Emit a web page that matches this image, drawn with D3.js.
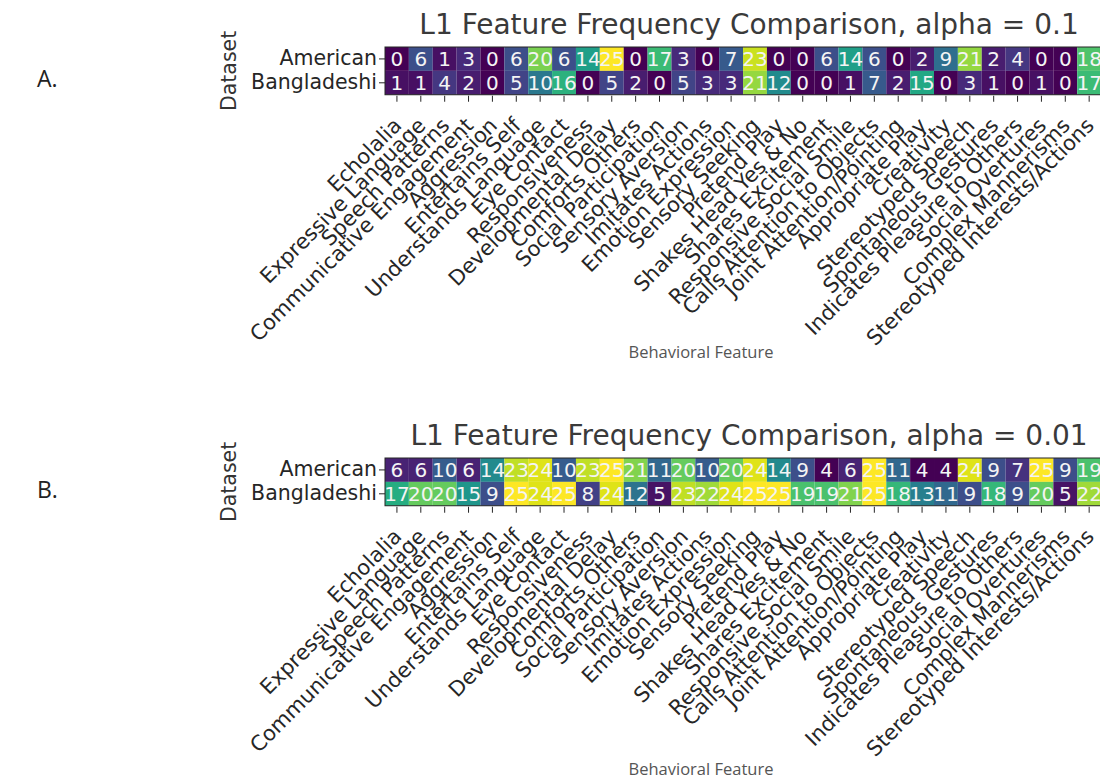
<html>

<head>
  <meta charset="UTF-8">
  <title>L1 Feature Frequency Comparison</title>
  <script src="https://cdn.jsdelivr.net/npm/d3@7"></script>
  <style>
    body { margin: 0; background: #fff; }
    text { font-family: "DejaVu Sans", sans-serif; }
  </style>
</head>

<body>
  <svg id="chart" width="1100" height="779"></svg>
  <script>
  //-----------------------------------------
  // data
  let features = ["Echolalia", "Expressive Language", "Speech Patterns", "Communicative Engagement",
    "Aggression", "Entertains Self", "Understands Language", "Eye Contact", "Responsiveness",
    "Developmental Delay", "Comforts Others", "Social Participation", "Sensory Aversion",
    "Imitates Actions", "Emotion Expression", "Sensory Seeking", "Pretend Play",
    "Shakes Head Yes & No", "Shares Excitement", "Responsive Social Smile",
    "Calls Attention to Objects", "Joint Attention/Pointing", "Appropriate Play", "Creativity",
    "Stereotyped Speech", "Spontaneous Gestures", "Indicates Pleasure to Others",
    "Social Overtures", "Complex Mannerisms", "Stereotyped Interests/Actions"]
  let datasets = ["American", "Bangladeshi"]

  // alpha = 0.1
  let americanA = [0, 6, 1, 3, 0, 6, 20, 6, 14, 25, 0, 17, 3, 0, 7, 23, 0, 0, 6, 14, 6, 0, 2, 9, 21, 2, 4, 0, 0, 18]
  let bangladeshiA = [1, 1, 4, 2, 0, 5, 10, 16, 0, 5, 2, 0, 5, 3, 3, 21, 12, 0, 0, 1, 7, 2, 15, 0, 3, 1, 0, 1, 0, 17]
  // alpha = 0.01
  let americanB = [6, 6, 10, 6, 14, 23, 24, 10, 23, 25, 21, 11, 20, 10, 20, 24, 14, 9, 4, 6, 25, 11, 4, 4, 24, 9, 7, 25, 9, 19]
  let bangladeshiB = [17, 20, 20, 15, 9, 25, 24, 25, 8, 24, 12, 5, 23, 22, 24, 25, 25, 19, 19, 21, 25, 18, 13, 11, 9, 18, 9, 20, 5, 22]

  let panels = [
    { letter: "A.", title: "L1 Feature Frequency Comparison, alpha = 0.1", rows: [americanA, bangladeshiA], top: 47, labelGap: 311 },
    { letter: "B.", title: "L1 Feature Frequency Comparison, alpha = 0.01", rows: [americanB, bangladeshiB], top: 458, labelGap: 317 }
  ]

  var svg = d3.select("#chart")
  var cell = 23.87
  var left = 385

  function drawPanel(p) {
    var g = svg.append("g")
    var x = d3.scaleBand().domain(features).range([left, left + cell * features.length])
    var y = d3.scaleBand().domain(datasets).range([p.top, p.top + cell * datasets.length])
    var all = p.rows[0].concat(p.rows[1])
    var color = d3.scaleSequential(d3.interpolateViridis).domain([d3.min(all), d3.max(all)])

    let cells = []
    p.rows.forEach(function (row, i) {
      row.forEach(function (v, j) {
        cells.push({ feature: features[j], dataset: datasets[i], value: v })
      })
    })

    g.selectAll(".cell").data(cells).enter()
      .append("rect")
      .attr("class", "cell")
      .attr("x", function (d) { return x(d.feature) })
      .attr("y", function (d) { return y(d.dataset) })
      .attr("width", x.bandwidth())
      .attr("height", y.bandwidth())
      .attr("fill", function (d) { return color(d.value) })

    g.selectAll(".num").data(cells).enter()
      .append("text")
      .attr("class", "num")
      .attr("x", function (d) { return x(d.feature) + x.bandwidth() / 2 })
      .attr("y", function (d) { return y(d.dataset) + y.bandwidth() / 2 })
      .attr("text-anchor", "middle")
      .attr("dominant-baseline", "central")
      .style("font-size", "20px")
      .style("fill", "#f4f4f4")
      .text(function (d) { return d.value })

    // frame
    g.append("rect")
      .attr("x", left).attr("y", p.top)
      .attr("width", x.range()[1] - left).attr("height", y.range()[1] - p.top)
      .attr("fill", "none").attr("stroke", "#262626").attr("stroke-width", 1)

    // x axis, labels at 45 degrees
    var xAxis = g.append("g")
      .attr("transform", "translate(0," + (y.range()[1] + 1) + ")")
      .call(d3.axisBottom(x).tickSize(6).tickSizeOuter(0))
    xAxis.select(".domain").remove()
    xAxis.selectAll(".tick line").attr("stroke", "#262626")
    xAxis.selectAll(".tick text")
      .style("font-size", "21px")
      .style("font-family", "DejaVu Sans")
      .attr("fill", "#262626")
      .attr("text-anchor", "end")
      .attr("dy", null)
      .attr("y", 0)
      .attr("transform", "translate(6,31) rotate(-45)")

    // y axis
    var yAxis = g.append("g")
      .attr("transform", "translate(" + left + ",0)")
      .call(d3.axisLeft(y).tickSize(6).tickSizeOuter(0))
    yAxis.select(".domain").remove()
    yAxis.selectAll(".tick line").attr("stroke", "#262626")
    yAxis.selectAll(".tick text")
      .style("font-size", "20.5px")
      .style("font-family", "DejaVu Sans")
      .attr("fill", "#262626")
      .attr("x", -8)

    // title
    g.append("text")
      .attr("x", (left + x.range()[1]) / 2 + 6)
      .attr("y", p.top - 13)
      .attr("text-anchor", "middle")
      .style("font-size", "28px")
      .style("fill", "#3a3a3a")
      .text(p.title)

    // ylabel
    g.append("text")
      .attr("transform", "translate(236," + (p.top + cell) + ") rotate(-90)")
      .attr("text-anchor", "middle")
      .style("font-size", "20.5px")
      .style("fill", "#333")
      .text("Dataset")

    // xlabel
    g.append("text")
      .attr("x", 701)
      .attr("y", p.top + p.labelGap)
      .attr("text-anchor", "middle")
      .style("font-family", "Open Sans")
      .style("font-size", "16.5px")
      .style("fill", "#555")
      .text("Behavioral Feature")

    // panel letter
    g.append("text")
      .attr("x", 37)
      .attr("y", p.top + 40)
      .style("font-family", "Open Sans")
      .style("font-size", "23px")
      .style("fill", "#222")
      .text(p.letter)
  }

  panels.forEach(drawPanel)
  </script>
</body>

</html>
